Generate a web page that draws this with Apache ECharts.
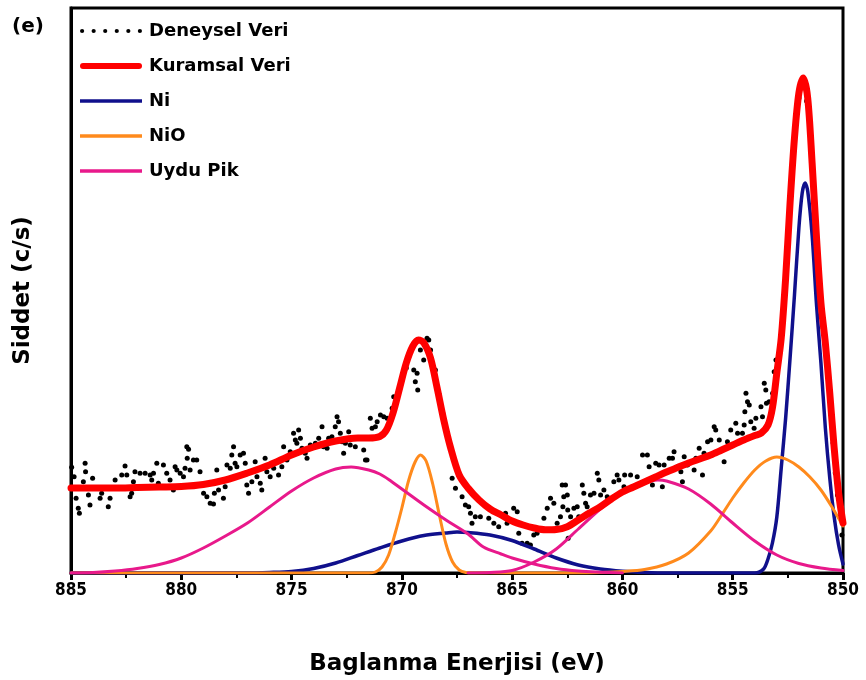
<!DOCTYPE html>
<html>
<head>
<meta charset="utf-8">
<script src="https://cdn.jsdelivr.net/npm/echarts@6/dist/echarts.min.js"></script>
<style>
  html, body { margin: 0; padding: 0; background: #fff; }
  #chart { width: 866px; height: 680px; }
</style>
</head>
<body>
<div id="chart"></div>
<script>
// binding energy (eV), intensity (c/s)

const deneysel = [
  [884.97,1057],[884.86,963],[884.77,747],[884.67,647],[884.62,597],[884.44,913],[884.36,1097],[884.34,1013],
  [884.21,780],[884.14,680],[884.02,947],[883.91,847],[883.68,747],[883.61,797],[883.38,847],[883.31,663],
  [883.23,747],[883.0,930],[882.7,980],[882.55,1070],[882.47,980],[882.32,763],[882.25,797],[882.17,913],
  [882.1,1013],[881.87,997],[881.64,997],[881.41,980],[881.34,930],[881.26,997],[881.11,1097],[881.04,897],
  [880.81,1080],[880.66,997],[880.51,930],[880.36,830],[880.28,1063],[880.2,1030],[880.05,997],[879.9,963],
  [879.83,1047],[879.75,1263],[879.67,1237],[879.73,1147],[879.6,1030],[879.45,1130],[879.3,1130],[879.15,1013],
  [879.07,880],[878.99,797],[878.84,763],[878.69,697],[878.54,690],[878.5,797],[878.39,1030],[878.31,830],
  [878.09,747],[878.01,863],[877.93,1080],[877.78,1047],[877.71,1180],[877.63,1263],[877.56,1097],[877.48,1063],
  [877.33,1180],[877.18,1197],[877.1,1097],[877.03,880],[876.95,797],[876.8,913],[876.65,1113],[876.57,963],
  [876.42,897],[876.35,830],[876.2,1147],[876.12,1013],
  [875.97,963],[875.81,1047],[875.59,980],[875.44,1063],[875.36,1263],[875.21,1130],[875.06,1213],[874.91,1397],
  [874.83,1330],[874.76,1297],[874.68,1430],[874.6,1347],[874.53,1247],[874.38,1197],[874.3,1147],[874.15,1280],
  [873.92,1297],[873.77,1347],[873.62,1463],[873.55,1263],[873.39,1247],[873.32,1347],[873.17,1363],[873.02,1463],
  [872.94,1563],[872.87,1513],[872.79,1397],[872.71,1313],[872.64,1197],[872.56,1297],[872.41,1413],[872.34,1280],
  [872.11,1263],[871.73,1230],[871.65,1130],[871.58,1130],[871.43,1547],[871.35,1447],[871.2,1463],[871.12,1513],
  [870.97,1580],[870.82,1563],[870.67,1547],[870.44,1647],[870.37,1763],[870.05,1900],[869.8,2050],[869.46,2030],
  [869.39,1913],[869.31,1997],[869.28,1830],[869.16,2230],[869.01,2130],[868.86,2347],[868.78,2330],[868.7,2230],
  [868.48,2030],[868.3,1780],[868.15,1600],[867.95,1397],
  [867.72,947],[867.57,847],[867.42,980],[867.27,763],[867.12,680],[866.97,663],[866.89,597],[866.82,497],
  [866.67,563],[866.44,563],[866.06,547],[865.83,497],[865.61,463],[865.3,597],[865.23,497],[864.93,647],
  [864.77,613],[864.7,397],[864.55,297],[864.32,297],[864.17,280],[864.02,380],[863.87,397],[863.56,547],
  [863.41,647],[863.26,747],[863.11,697],[862.96,497],[862.81,563],[862.73,880],[862.58,880],[862.66,763],
  [862.7,663],[862.5,780],[862.48,630],[862.46,347],[862.35,563],[862.2,647],[862.05,663],[861.98,563],
  [861.82,880],[861.75,797],[861.67,697],[861.6,663],[861.45,780],[861.29,797],[861.14,997],[861.07,930],
  [860.99,780],[860.84,830],[860.69,763],[860.39,913],[860.24,980],[860.16,930],[859.93,863],[859.9,980],
  [859.63,980],[859.33,963],
  [859.09,1180],[858.87,1180],[858.79,1063],[858.64,880],[858.49,1097],[858.34,1080],[858.19,863],[858.11,1080],
  [857.88,1147],[857.73,1147],[857.66,1213],[857.51,1063],[857.35,1013],[857.28,913],[857.2,1163],[857.05,1080],
  [856.75,1030],[856.67,1147],[856.52,1247],[856.37,980],[856.3,1197],[856.14,1313],[855.99,1330],[855.84,1463],
  [855.77,1430],[855.61,1330],[855.46,1230],[855.39,1113],[855.24,1313],[855.09,1430],[854.86,1497],[854.78,1397],
  [854.56,1397],[854.48,1480],[854.45,1613],[854.4,1797],[854.33,1713],[854.25,1680],[854.18,1513],[854.03,1447],
  [853.95,1547],[853.72,1663],[853.65,1563],[853.57,1897],[853.5,1830],[853.47,1697],[853.35,1713],[853.19,1797],
  [853.12,2013],[853.04,2130],
  [852.9,2200],[852.75,2500],[852.6,2950],[852.45,3500],[852.3,4000],[852.15,4450],[852.0,4750],[851.9,4880],
  [851.75,4900],[851.65,4720],[851.5,4400],[851.35,3950],[851.2,3350],[851.05,2850],[850.9,2450],[850.75,2150],
  [850.6,1750],[850.45,1300],[850.35,1000],[850.25,780],[850.15,560],[850.05,380]
];

const kuramsal = [
  [885,850],[884,850],[883,850],[882,855],[881,860],[880,865],[879,885],[878,930],[877,1000],[876,1080],
  [875,1180],[874,1260],[873,1320],[872,1350],[871.5,1350],[871,1365],[870.7,1430],[870.4,1600],[870.1,1850],
  [869.8,2100],[869.5,2270],[869.25,2330],[869,2300],[868.7,2150],[868.4,1850],[868.1,1530],[867.8,1260],
  [867.4,980],[867,850],[866.5,730],[866,640],[865.5,580],[865,520],[864.5,480],[864,450],[863.5,432],
  [863,435],[862.5,463],[862,530],[861.5,600],[861,663],[860.5,740],[860,810],[859.5,860],[859,910],
  [858.5,960],[858,1010],[857.5,1055],[857,1100],[856.5,1140],[856,1180],[855.5,1230],[855,1280],[854.5,1330],
  [854,1375],[853.7,1400],[853.4,1480],[853.2,1650],[853,2000],[852.8,2350],[852.6,2950],[852.4,3700],
  [852.2,4350],[852,4800],[851.8,4950],[851.6,4750],[851.4,4100],[851.2,3350],[851,2700],[850.8,2300],
  [850.6,1800],[850.4,1250],[850.2,800],[850,500]
];

const ni = [
  [885,0],[877,0],[876,5],[875,15],[874,45],[873,100],[872,175],[871,250],[870,320],[869,375],[868,400],
  [867.5,410],[867,405],[866,380],[865,325],[864,240],[863,150],[862,80],[861,40],[860,18],[859,6],[858,0],
  [854,0],[853.6,40],[853.4,140],[853.2,300],[853,560],[852.8,1050],[852.6,1550],[852.4,2150],[852.2,2780],
  [852,3450],[851.85,3800],[851.72,3900],[851.6,3820],[851.4,3380],[851.2,2680],[851,2100],[850.8,1450],
  [850.6,950],[850.4,560],[850.2,280],[850,90]
];

const nio = [
  [885,0],[871.5,0],[871.2,10],[870.9,60],[870.6,180],[870.3,400],[870,650],[869.7,920],[869.4,1110],
  [869.15,1180],[868.9,1120],[868.6,890],[868.3,580],[868,290],[867.7,110],[867.4,30],[867.1,5],[866.8,0],
  [862,0],[861,5],[860,15],[859,35],[858,90],[857,200],[856,420],[855.5,580],[855,750],[854.5,900],
  [854,1030],[853.5,1120],[853,1160],[852.5,1130],[852,1060],[851.5,960],[851,830],[850.5,660],[850,470]
];

const uyduPik1 = [
  [885,0],[884,5],[883,20],[882,45],[881,85],[880,150],[879,250],[878,370],[877,500],[876,660],[875,820],
  [874,950],[873,1040],[872.3,1060],[871.5,1030],[871,990],[870.5,920],[870,840],[869,680],[868,530],
  [867,390],[866.3,260],[865.5,190],[865,150],[864,90],[863,45],[862,20],[861,8],[860,0]
];

const uyduPik2 = [
  [867,0],[866,5],[865,25],[864,110],[863,240],[862,440],[861,640],[860,800],[859,900],[858.4,930],
  [858,920],[857,840],[856,690],[855,500],[854,320],[853,180],[852,95],[851,50],[850,25]
];

const xTicks = { min: 850, max: 885, step: 5 };
const yMax = 5650;

const FONT = "'Comic Sans MS', 'DejaVu Sans', sans-serif";
const FONT_NARROW = "'DejaVu Sans Condensed', 'DejaVu Sans', sans-serif";

const dotsIcon = "path://M0,2a2,2 0 1,0 4,0a2,2 0 1,0 -4,0M11,2a2,2 0 1,0 4,0a2,2 0 1,0 -4,0" +
  "M22,2a2,2 0 1,0 4,0a2,2 0 1,0 -4,0M33,2a2,2 0 1,0 4,0a2,2 0 1,0 -4,0" +
  "M44,2a2,2 0 1,0 4,0a2,2 0 1,0 -4,0M55,2a2,2 0 1,0 4,0a2,2 0 1,0 -4,0";
const thickIcon = "path://M3,0H59A3,3 0 0 1 59,6H3A3,3 0 0 1 3,0Z";
const thinIcon = "path://M0,0H62V3.5H0Z";

const chart = echarts.init(document.getElementById("chart"));

const curve = (name, data, color, width) => ({
  name,
  type: "line",
  data,
  smooth: 0.3,
  showSymbol: false,
  symbol: "none",
  color,
  lineStyle: { color, width, cap: "round", join: "round" },
  silent: true,
  animation: false,
});

chart.setOption({
  animation: false,
  backgroundColor: "#fff",
  grid: {
    left: 71, right: 23, top: 8, bottom: 107,
    show: true, borderColor: "#000", borderWidth: 3,
    outerBoundsMode: "none",
  },
  graphic: [{
    type: "text", left: 12, top: 17,
    style: { text: "(e)", font: "bold 20px " + FONT, fill: "#000" },
  }],
  legend: {
    orient: "vertical",
    left: 75, top: 17,
    itemWidth: 62, itemHeight: 14, itemGap: 17,
    itemStyle: { borderWidth: 0 },
    textStyle: { fontFamily: FONT, fontWeight: "bold", fontSize: 18, color: "#000", padding: [0, 0, 0, 2] },
    data: [
      { name: "Deneysel Veri", icon: dotsIcon },
      { name: "Kuramsal Veri", icon: thickIcon },
      { name: "Ni", icon: thinIcon },
      { name: "NiO", icon: thinIcon },
      { name: "Uydu Pik", icon: thinIcon },
    ],
  },
  xAxis: {
    type: "value",
    min: xTicks.min, max: xTicks.max, interval: xTicks.step,
    inverse: true,
    axisLine: { show: true, onZero: false, lineStyle: { color: "#000", width: 3 } },
    axisTick: { show: true, inside: false, length: 7, lineStyle: { color: "#000", width: 3 } },
    minorTick: { show: true, splitNumber: 2, length: 5, lineStyle: { color: "#000", width: 2 } },
    axisLabel: { margin: 9, fontSize: 17, fontWeight: "bold", color: "#000", fontFamily: FONT_NARROW },
    splitLine: { show: false },
    name: "Baglanma Enerjisi (eV)",
    nameLocation: "middle",
    nameGap: 80,
    nameTextStyle: { fontSize: 23, fontWeight: "bold", color: "#000", fontFamily: FONT },
  },
  yAxis: {
    type: "value",
    min: 0, max: yMax,
    axisLine: { show: true, onZero: false, lineStyle: { color: "#000", width: 3 } },
    axisTick: { show: false },
    axisLabel: { show: false },
    splitLine: { show: false },
    name: "Siddet (c/s)",
    nameLocation: "middle",
    nameGap: 36,
    nameRotate: 90,
    nameTextStyle: { fontSize: 23, fontWeight: "bold", color: "#000", fontFamily: FONT },
  },
  series: [
    curve("Ni", ni, "#10108c", 3.5),
    curve("NiO", nio, "#ff8a1c", 3),
    curve("Uydu Pik", uyduPik1, "#e8198b", 3),
    curve("Uydu Pik", uyduPik2, "#e8198b", 3),
    curve("Kuramsal Veri", kuramsal, "#ff0000", 7),
    {
      name: "Deneysel Veri",
      type: "scatter",
      data: deneysel,
      symbol: "circle",
      symbolSize: 5,
      itemStyle: { color: "#000", opacity: 1 },
      silent: true,
      animation: false,
    },
  ],
});
</script>
</body>
</html>
